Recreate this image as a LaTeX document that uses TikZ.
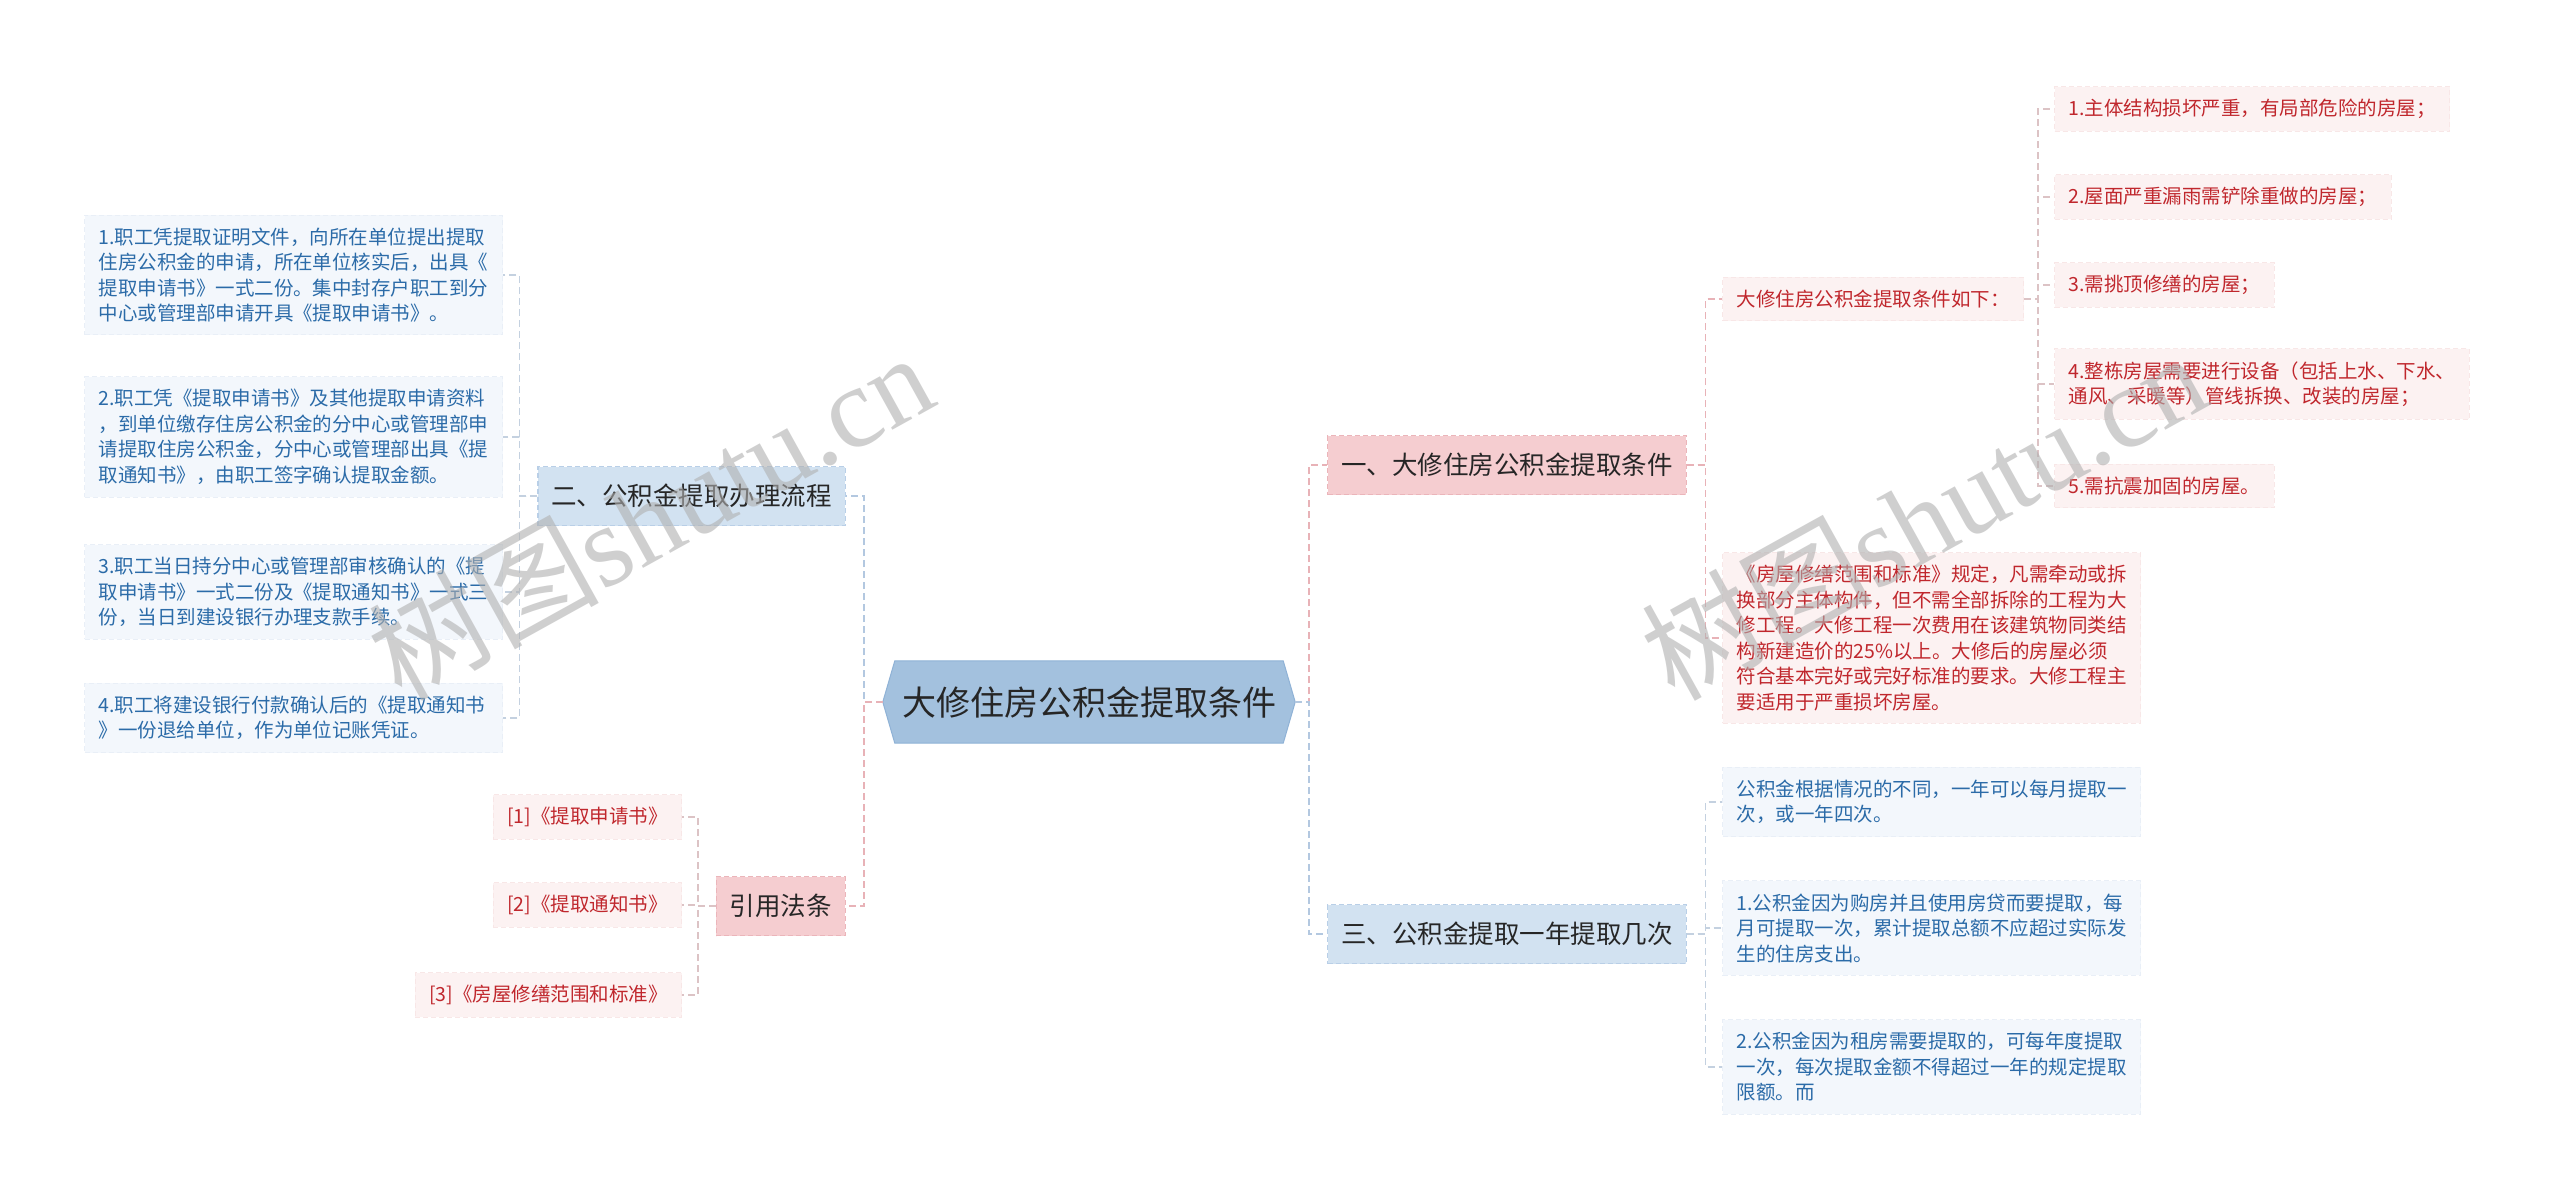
\documentclass[tikz,border=0pt]{standalone}
\usepackage{fontspec}
\setmainfont{Noto Sans CJK SC}
\newfontfamily\wmlatin{Liberation Serif}
\usetikzlibrary{backgrounds}
\definecolor{rootfill}{HTML}{A3C1DE}
\definecolor{rootdraw}{HTML}{8FB2D6}
\definecolor{pinkfill}{HTML}{F5CDD0}
\definecolor{pinkdraw}{HTML}{EBB5BA}
\definecolor{bluefill}{HTML}{D2E2F1}
\definecolor{bluedraw}{HTML}{B9CFE7}
\definecolor{rleaffill}{HTML}{FCF2F2}
\definecolor{rleafdraw}{HTML}{F8E7E7}
\definecolor{redtext}{HTML}{C0272D}
\definecolor{bleaffill}{HTML}{F3F7FC}
\definecolor{bleafdraw}{HTML}{E9EFF7}
\definecolor{bluetext}{HTML}{2B6BA8}
\definecolor{darktext}{HTML}{262626}
\definecolor{pinkline}{HTML}{E8B2B7}
\definecolor{blueline}{HTML}{B3C8E0}
\definecolor{pinkleafline}{HTML}{DCC3C5}
\definecolor{blueleafline}{HTML}{C4D1E0}
\definecolor{wmgray}{HTML}{B0B0B0}
\begin{document}
\begin{tikzpicture}[x=1pt,y=-1pt,
  rootbox/.style={minimum width=412pt, minimum height=82pt, inner sep=0pt,
    font=\fontsize{34}{40}\selectfont, text=darktext},
  pinkbox/.style={fill=pinkfill, draw=pinkdraw, dashed, dash pattern=on 5pt off 3pt,
    line width=1.2pt, minimum height=59pt, inner xsep=13.5pt,
    font=\fontsize{25.5}{30}\selectfont, text=darktext},
  bluebox/.style={pinkbox, fill=bluefill, draw=bluedraw},
  leafbase/.style={dashed, dash pattern=on 5pt off 3pt, line width=1pt,
    inner xsep=14pt, inner ysep=12.5pt, align=left,
    font=\fontsize{19.5}{25.5}\selectfont},
  rleaf/.style={leafbase, fill=rleaffill, draw=rleafdraw, text=redtext},
  bleaf/.style={leafbase, fill=bleaffill, draw=bleafdraw, text=bluetext},
  wide/.style={text width=390pt},
  conn/.style={dashed, dash pattern=on 7pt off 4pt, line width=1.8pt},
  leafconn/.style={dashed, dash pattern=on 7pt off 4pt, line width=1.5pt},
  wmark/.style={text=wmgray, opacity=0.6, rotate=29, inner sep=0pt}
]
\begin{scope}[on background layer]
\fill[white] (0,0) rectangle (2560,1201);
\end{scope}
\useasboundingbox (0,0) rectangle (2560,1201);

% root
\node[rootbox] (root) at (1089,702) {大修住房公积金提取条件};
\begin{scope}[on background layer]
\filldraw[fill=rootfill, draw=rootdraw, line width=1pt]
  (root.west) -- ([xshift=12pt]root.north west) -- ([xshift=-12pt]root.north east)
  -- (root.east) -- ([xshift=-12pt]root.south east) -- ([xshift=12pt]root.south west) -- cycle;
\end{scope}

% level 1
\node[bluebox, anchor=east] (n2) at (846,496) {二、公积金提取办理流程};
\node[pinkbox, anchor=east] (yin) at (846,906) {引用法条};
\node[pinkbox, anchor=west] (n1) at (1327,465) {一、大修住房公积金提取条件};
\node[bluebox, anchor=west] (n3) at (1327,934) {三、公积金提取一年提取几次};

% left leaves
\node[bleaf, wide, anchor=east] (L1) at (503,275) {1.职工凭提取证明文件，向所在单位提出提取\\住房公积金的申请，所在单位核实后，出具《\\提取申请书》一式二份。集中封存户职工到分\\中心或管理部申请开具《提取申请书》。};
\node[bleaf, wide, anchor=east] (L2) at (503,437) {2.职工凭《提取申请书》及其他提取申请资料\\，到单位缴存住房公积金的分中心或管理部申\\请提取住房公积金，分中心或管理部出具《提\\取通知书》，由职工签字确认提取金额。};
\node[bleaf, wide, anchor=east] (L3) at (503,592) {3.职工当日持分中心或管理部审核确认的《提\\取申请书》一式二份及《提取通知书》一式三\\份，当日到建设银行办理支款手续。};
\node[bleaf, wide, anchor=east] (L4) at (503,718) {4.职工将建设银行付款确认后的《提取通知书\\》一份退给单位，作为单位记账凭证。};

% references
\node[rleaf, anchor=east] (f1) at (682,817) {[1]《提取申请书》};
\node[rleaf, anchor=east] (f2) at (682,905) {[2]《提取通知书》};
\node[rleaf, anchor=east] (f3) at (682,995) {[3]《房屋修缮范围和标准》};

% branch one
\node[rleaf, anchor=west] (rl) at (1722,299) {大修住房公积金提取条件如下：};
\node[rleaf, anchor=west] (r1) at (2054,109) {1.主体结构损坏严重，有局部危险的房屋；};
\node[rleaf, anchor=west] (r2) at (2054,197) {2.屋面严重漏雨需铲除重做的房屋；};
\node[rleaf, anchor=west] (r3) at (2054,285) {3.需挑顶修缮的房屋；};
\node[rleaf, anchor=west] (r4) at (2054,384) {4.整栋房屋需要进行设备（包括上水、下水、\\通风、采暖等）管线拆换、改装的房屋；};
\node[rleaf, anchor=west] (r5) at (2054,486) {5.需抗震加固的房屋。};
\node[rleaf, wide, anchor=west] (para) at (1722,638) {《房屋修缮范围和标准》规定，凡需牵动或拆\\换部分主体构件，但不需全部拆除的工程为大\\修工程。大修工程一次费用在该建筑物同类结\\构新建造价的25\%以上。大修后的房屋必须\\符合基本完好或完好标准的要求。大修工程主\\要适用于严重损坏房屋。};

% branch three
\node[bleaf, wide, anchor=west] (t1) at (1722,802) {公积金根据情况的不同，一年可以每月提取一\\次，或一年四次。};
\node[bleaf, wide, anchor=west] (t2) at (1722,928) {1.公积金因为购房并且使用房贷而要提取，每\\月可提取一次，累计提取总额不应超过实际发\\生的住房支出。};
\node[bleaf, wide, anchor=west] (t3) at (1722,1067) {2.公积金因为租房需要提取的，可每年度提取\\一次，每次提取金额不得超过一年的规定提取\\限额。而};

% connectors from root
\draw[conn, blueline] (root.west) -- ++(-19,0) |- (n2.east);
\draw[conn, pinkline] (root.west) -- ++(-19,0) |- (yin.east);
\draw[conn, pinkline] (root.east) -- ++(14,0) |- (n1.west);
\draw[conn, blueline] (root.east) -- ++(14,0) |- (n3.west);

% level 1 to leaves
\foreach \c in {L1,L2,L3,L4}
  \draw[leafconn, blueleafline] (n2.west) -- ++(-18,0) |- (\c.east);
\foreach \c in {f1,f2,f3}
  \draw[leafconn, pinkleafline] (yin.west) -- ++(-18,0) |- (\c.east);
\foreach \c in {rl,para}
  \draw[leafconn, pinkline] (n1.east) -- ++(19,0) |- (\c.west);
\foreach \c in {r1,r2,r3,r4,r5}
  \draw[leafconn, pinkleafline] (rl.east) -- ++(14,0) |- (\c.west);
\foreach \c in {t1,t2,t3}
  \draw[leafconn, blueleafline] (n3.east) -- ++(19,0) |- (\c.west);

% watermarks
\node[wmark] (wm1) at (650,515) {\fontsize{115}{120}\selectfont 树图{\wmlatin shutu.cn}};
\node[wmark] (wm2) at (1923,515) {\fontsize{115}{120}\selectfont 树图{\wmlatin shutu.cn}};
\end{tikzpicture}
\end{document}
